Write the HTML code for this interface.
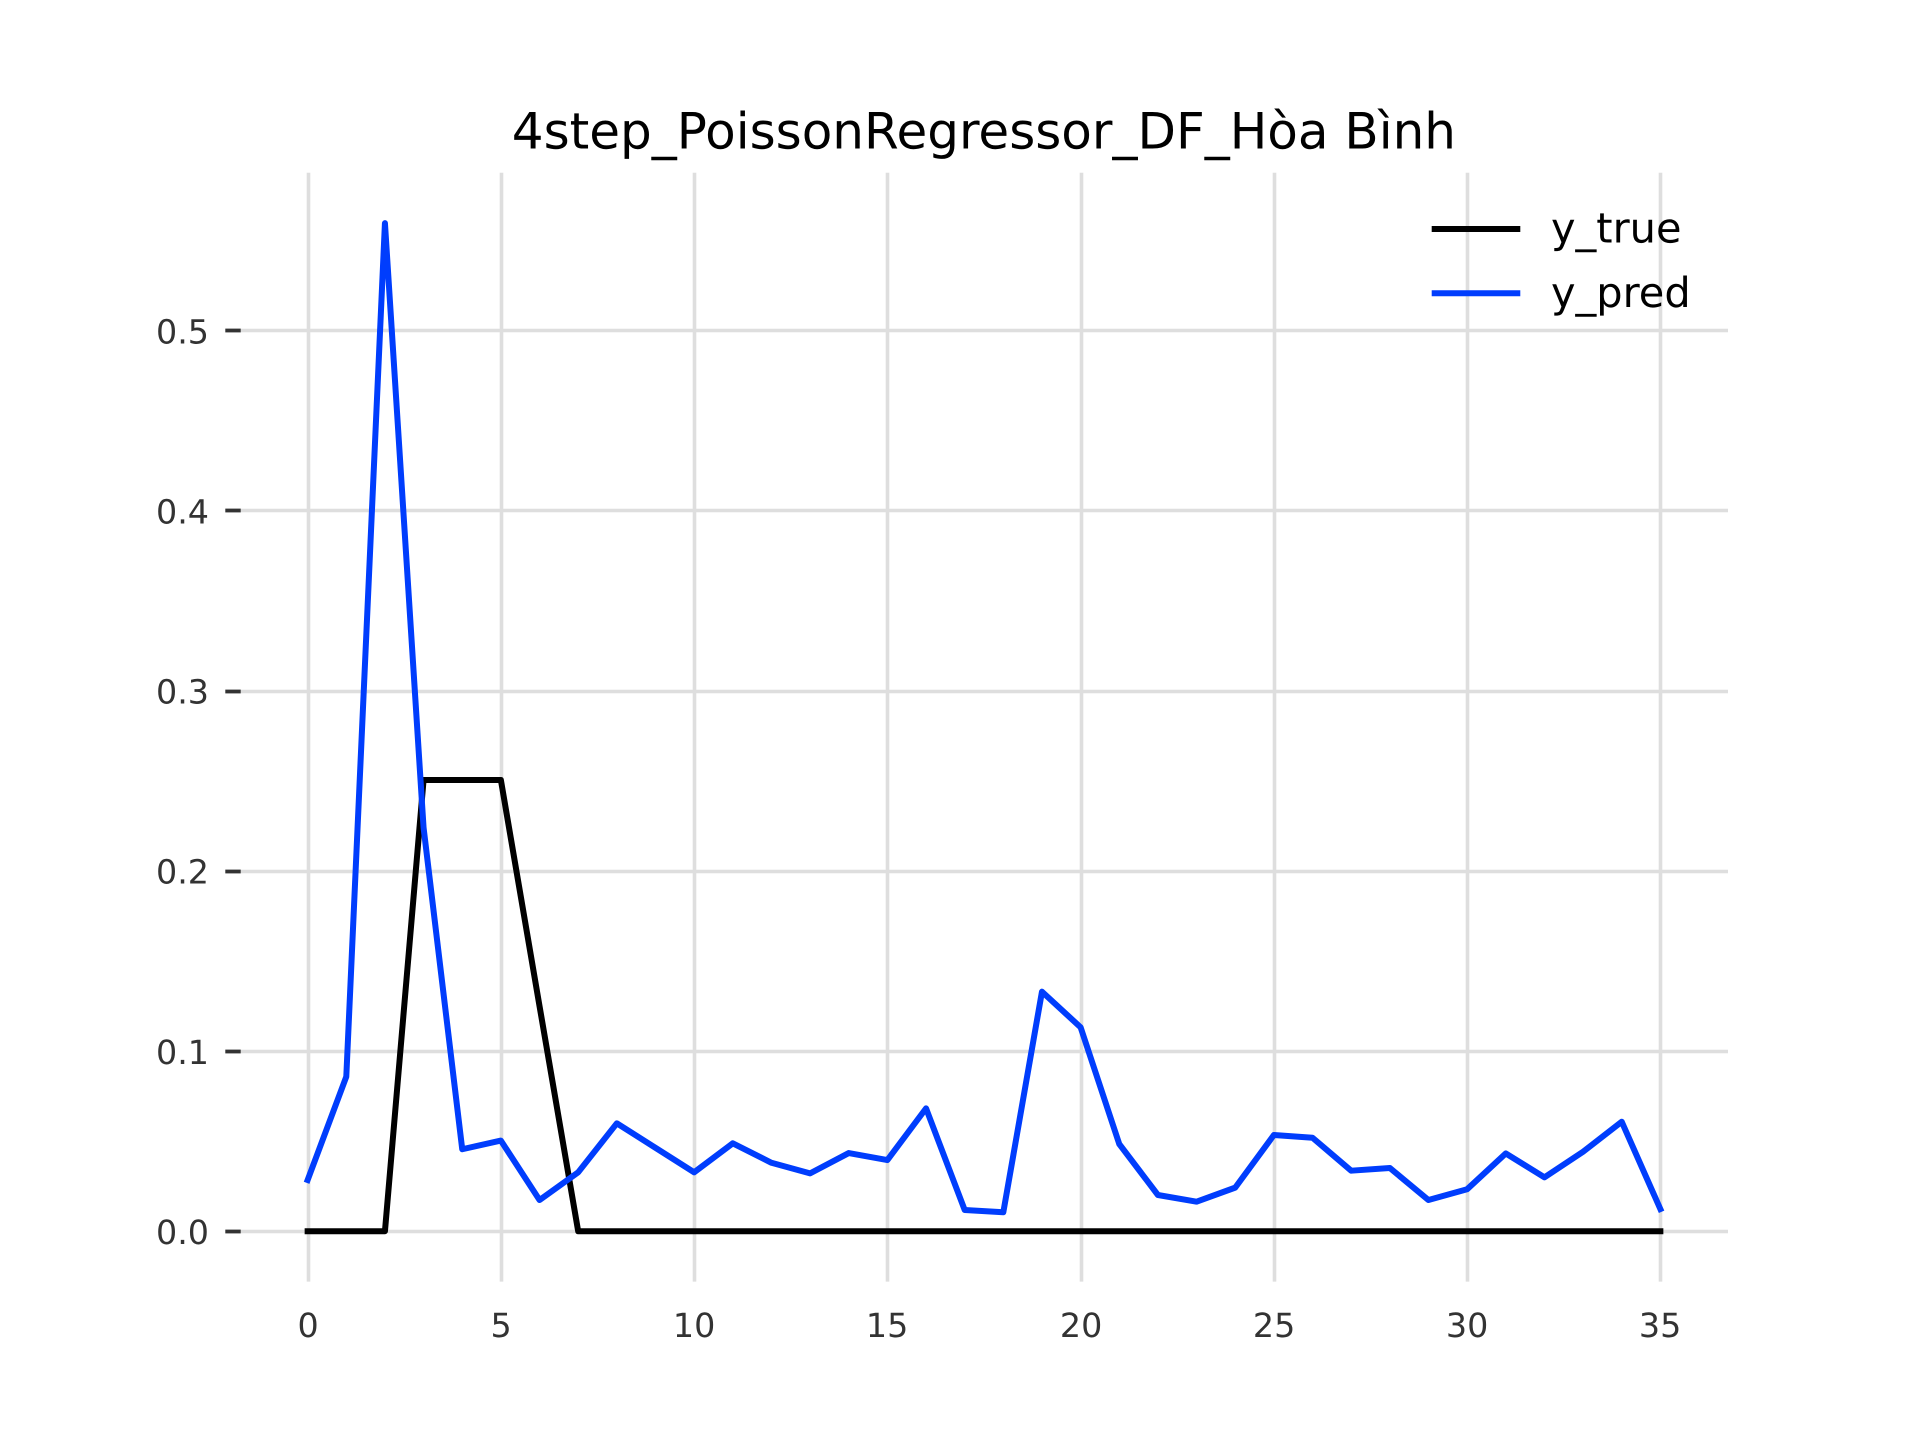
<!DOCTYPE html>
<html lang="vi">
<head>
<meta charset="utf-8">
<title>4step_PoissonRegressor_DF_Hòa Bình</title>
<style>
html,body{margin:0;padding:0;background:#fff;}
svg{display:block;}
text{font-family:"DejaVu Sans","Liberation Sans",sans-serif;text-rendering:geometricPrecision;}
</style>
</head>
<body>
<svg id="chart" xmlns="http://www.w3.org/2000/svg" width="1920" height="1440" viewBox="0 0 1920 1440">
  <rect x="0" y="0" width="1920" height="1440" fill="#ffffff"/>
  <g id="grid"></g>
  <g id="ticks"></g>
  <g id="xlabels"></g>
  <g id="ylabels"></g>
  <g id="series"></g>
  <text x="983.9" y="148.3" font-size="50" text-anchor="middle" fill="#000000">4step_PoissonRegressor_DF_Hòa Bình</text>
  <g>
    <line x1="1434.7" x2="1517.3" y1="229" y2="229" stroke="#000000" stroke-width="6" stroke-linecap="square"/>
    <text x="1551" y="242.6" font-size="41.5" fill="#000000">y_true</text>
    <line x1="1434.7" x2="1517.3" y1="293.3" y2="293.3" stroke="#003DFD" stroke-width="6" stroke-linecap="square"/>
    <text x="1551" y="306.9" font-size="41.5" fill="#000000">y_pred</text>
  </g>
</svg>
<script>
const xTickValues = [0, 5, 10, 15, 20, 25, 30, 35];
const yTickValues = [0.0, 0.1, 0.2, 0.3, 0.4, 0.5];
const yTickLabels = ["0.0", "0.1", "0.2", "0.3", "0.4", "0.5"];
const steps = [0,1,2,3,4,5,6,7,8,9,10,11,12,13,14,15,16,17,18,19,20,21,22,23,24,25,26,27,28,29,30,31,32,33,34,35];
const yTrue = [0,0,0,0.2505,0.2505,0.2505,0.125,0,0,0,0,0,0,0,0,0,0,0,0,0,0,0,0,0,0,0,0,0,0,0,0,0,0,0,0,0];
const yPred = [0.0284,0.0858,0.5597,0.224,0.0455,0.0503,0.0173,0.0327,0.0599,0.0463,0.0327,0.0488,0.038,0.0321,0.0434,0.0395,0.0682,0.0118,0.0105,0.133,0.1132,0.0484,0.0201,0.0164,0.0242,0.0534,0.0519,0.0336,0.0351,0.0173,0.0233,0.0432,0.0299,0.0441,0.0608,0.0123];

const NS = 'http://www.w3.org/2000/svg';
const axLeft = 240, axRight = 1728, axTop = 172.8, axBottom = 1281.6;
const xMin = -1.75, xMax = 36.75;
function xScale(v) { return axLeft + (v - xMin) / (xMax - xMin) * (axRight - axLeft); }
function yScale(v) { return 1231.2 - v * 1801; }
function snap(p) { return Math.round(p) + 0.5; }
function make(tag, parent, attrs) {
  const el = document.createElementNS(NS, tag);
  for (const k in attrs) el.setAttribute(k, attrs[k]);
  parent.appendChild(el);
  return el;
}
const gridG = document.getElementById('grid');
const ticksG = document.getElementById('ticks');
const xlabelsG = document.getElementById('xlabels');
const ylabelsG = document.getElementById('ylabels');
const seriesG = document.getElementById('series');

xTickValues.forEach(function (v) {
  const px = snap(xScale(v));
  const g = make('line', gridG, {x1: px, x2: px, y1: axTop, y2: axBottom, stroke: '#dedede', 'stroke-width': 3.6});
  
  
  const t = make('text', xlabelsG, {x: px - 0.4, y: 1337, 'font-size': 33.33, 'text-anchor': 'middle', fill: '#333333'});
  t.textContent = String(v);
  
  
});
yTickValues.forEach(function (v, i) {
  const py = snap(yScale(v) - 0.38);
  const g = make('line', gridG, {x1: axLeft, x2: axRight, y1: py, y2: py, stroke: '#dedede', 'stroke-width': 3.6});
  
  
  const m = make('line', ticksG, {x1: 225.3, x2: 240.7, y1: py, y2: py, stroke: '#333333', 'stroke-width': 3.8});
  
  
  const t = make('text', ylabelsG, {x: 209, y: yScale(v) + 12.7, 'font-size': 33.33, 'text-anchor': 'end', fill: '#333333'});
  t.textContent = yTickLabels[i];
  
  
});
function pathFor(values) {
  return values.map(function (v, i) {
    return (i ? 'L' : 'M') + xScale(steps[i]).toFixed(2) + ' ' + yScale(v).toFixed(2);
  }).join(' ');
}
const trueLine = make('path', seriesG, {d: pathFor(yTrue), fill: 'none', stroke: '#000000', 'stroke-width': 6, 'stroke-linecap': 'square', 'stroke-linejoin': 'round'});


const predLine = make('path', seriesG, {d: pathFor(yPred), fill: 'none', stroke: '#003DFD', 'stroke-width': 6, 'stroke-linecap': 'square', 'stroke-linejoin': 'round'});


</script>
</body>
</html>
